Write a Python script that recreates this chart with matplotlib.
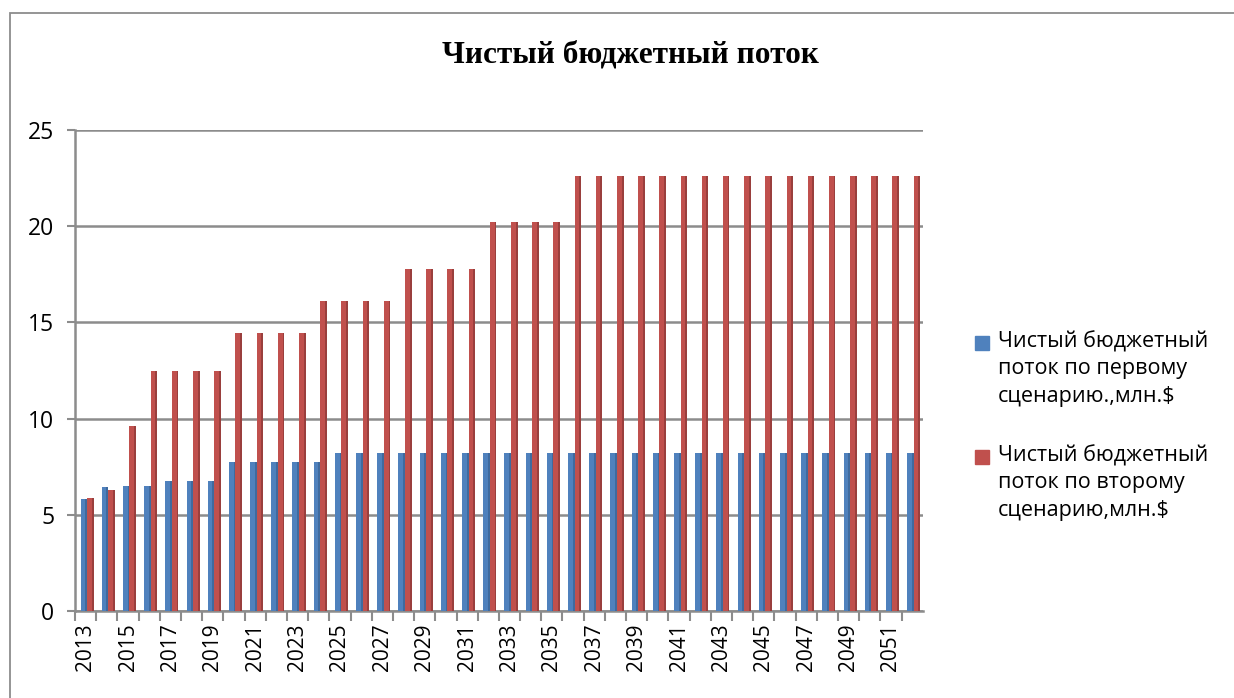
import matplotlib.pyplot as plt
import numpy as np
from matplotlib.patches import Rectangle

plt.rcParams['font.family'] = ['Open Sans', 'DejaVu Sans']

years = list(range(2013, 2053))
scenario1 = [5.8, 6.45, 6.5, 6.5, 6.76, 6.76, 6.76,
             7.74, 7.74, 7.74, 7.74, 7.74] + [8.2] * 28
scenario2 = [5.85, 6.3, 9.6, 12.5, 12.5, 12.5, 12.5,
             14.45, 14.45, 14.45, 14.45,
             16.1, 16.1, 16.1, 16.1,
             17.8, 17.8, 17.8, 17.8,
             20.2, 20.2, 20.2, 20.2] + [22.6] * 17
label1 = "Чистый бюджетный\nпоток по первому\nсценарию.,млн.$"
label2 = "Чистый бюджетный\nпоток по второму\nсценарию,млн.$"
title = "Чистый бюджетный поток"

blue = '#4F81BD'
red = '#C0504D'

fig = plt.figure(figsize=(12.34, 6.98), dpi=100)
ax = fig.add_axes([0.0608, 0.1246, 0.687, 0.689])

x = np.arange(len(years))
w = 0.31
ax.bar(x + 0.26, scenario1, w, color=blue, align='edge', linewidth=0, zorder=3)
ax.bar(x + 0.57, scenario2, w, color=red, align='edge', linewidth=0, zorder=3)
# darker right side for a bit of depth
ax.bar(x + 0.26 + w * 0.72, scenario1, w * 0.28, color='#3F6A9E', align='edge',
       linewidth=0, zorder=3)
ax.bar(x + 0.57 + w * 0.72, scenario2, w * 0.28, color='#9A3F3D', align='edge',
       linewidth=0, zorder=3)

ax.set_xlim(0, len(years))
ax.set_ylim(0, 25)
ax.set_yticks([0, 5, 10, 15, 20, 25])
ax.yaxis.grid(True, color='#8C8C8C', linewidth=1.8, zorder=0)
ax.set_xticks(x + 0.5, minor=False)
ax.set_xticklabels([str(y) if i % 2 == 0 else '' for i, y in enumerate(years)],
                   rotation=90, fontsize=15)
ax.set_xticks(x, minor=True)
ax.tick_params(axis='x', which='major', length=0, pad=9)
ax.tick_params(axis='x', which='minor', length=7, color='#8C8C8C', width=1.5)
ax.tick_params(axis='y', labelsize=16.5, length=6, color='#8C8C8C', width=1.5, pad=9)

for side in ['top', 'right']:
    ax.spines[side].set_visible(False)
for side in ['left', 'bottom']:
    ax.spines[side].set_color('#8C8C8C')
    ax.spines[side].set_linewidth(1.8)

fig.text(0.511, 0.921, title, ha='center', va='center', fontsize=22.5,
         fontweight='bold', family=['Liberation Serif', 'DejaVu Serif'])

# legend drawn by hand so the square sits on the first text line
legend_items = [(label1, blue, 343), (label2, red, 457)]
for text, color, ypix in legend_items:
    yf = 1 - ypix / 698
    fig.patches.append(Rectangle((975 / 1234, yf - 7 / 698), 14 / 1234, 14 / 698,
                                 transform=fig.transFigure, color=color))
    fig.text(998 / 1234, yf + 12 / 698, text, ha='left', va='top', fontsize=15.5,
             linespacing=1.38)

# outer chart frame, cut by the right and bottom image edges
fig.patches.append(Rectangle((10 / 1234, -0.05), 1.1, 1 - 13 / 698 + 0.05,
                             transform=fig.transFigure, fill=False,
                             edgecolor='#8C8C8C', linewidth=1.3))

fig.savefig('out.png', dpi=100)
